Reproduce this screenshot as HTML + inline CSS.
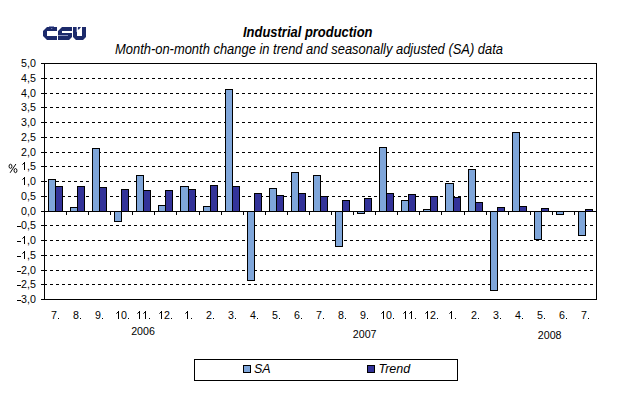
<!DOCTYPE html>
<html><head><meta charset="utf-8"><style>
html,body{margin:0;padding:0;background:#fff;width:618px;height:396px;overflow:hidden}
svg{display:block}
text{font-family:"Liberation Sans",sans-serif;fill:#000}
</style></head><body>
<svg width="618" height="396" viewBox="0 0 618 396">
<rect width="618" height="396" fill="#fff"/>
<g fill="#1C2A6B">
<polygon points="43,31 47,27 57,27 57,31 47,31 47,36 57,36 57,40 47,40 43,36"/>
<rect x="49" y="26" width="5" height="1" fill="#8A92C0"/>
<rect x="51" y="28" width="1.3" height="1" fill="#6F79AD"/>
<polygon points="58,31 62,27 72,27 72,31 62,31 62,33 72,33 72,37 69,40 58,40"/>
<rect x="58" y="35" width="10" height="1" fill="#8E96C0"/>
<polygon points="73,27 77,27 77,36 82,36 82,27 86,27 86,37 83,40 76,40 73,37"/>
<rect x="76" y="27" width="1" height="5" fill="#6A75AC"/>
<polygon points="78,27 81,27 79,29.6 77.8,29.6"/>
</g>
<line x1="44" y1="78.5" x2="596" y2="78.5" stroke="#000" stroke-width="1" stroke-dasharray="3 3"/>
<line x1="44" y1="93.5" x2="596" y2="93.5" stroke="#000" stroke-width="1" stroke-dasharray="3 3"/>
<line x1="44" y1="107.5" x2="596" y2="107.5" stroke="#000" stroke-width="1" stroke-dasharray="3 3"/>
<line x1="44" y1="122.5" x2="596" y2="122.5" stroke="#000" stroke-width="1" stroke-dasharray="3 3"/>
<line x1="44" y1="137.5" x2="596" y2="137.5" stroke="#000" stroke-width="1" stroke-dasharray="3 3"/>
<line x1="44" y1="152.5" x2="596" y2="152.5" stroke="#000" stroke-width="1" stroke-dasharray="3 3"/>
<line x1="44" y1="166.5" x2="596" y2="166.5" stroke="#000" stroke-width="1" stroke-dasharray="3 3"/>
<line x1="44" y1="181.5" x2="596" y2="181.5" stroke="#000" stroke-width="1" stroke-dasharray="3 3"/>
<line x1="44" y1="196.5" x2="596" y2="196.5" stroke="#000" stroke-width="1" stroke-dasharray="3 3"/>
<line x1="44" y1="225.5" x2="596" y2="225.5" stroke="#000" stroke-width="1" stroke-dasharray="3 3"/>
<line x1="44" y1="240.5" x2="596" y2="240.5" stroke="#000" stroke-width="1" stroke-dasharray="3 3"/>
<line x1="44" y1="255.5" x2="596" y2="255.5" stroke="#000" stroke-width="1" stroke-dasharray="3 3"/>
<line x1="44" y1="270.5" x2="596" y2="270.5" stroke="#000" stroke-width="1" stroke-dasharray="3 3"/>
<line x1="44" y1="284.5" x2="596" y2="284.5" stroke="#000" stroke-width="1" stroke-dasharray="3 3"/>
<line x1="41" y1="63.5" x2="44" y2="63.5" stroke="#000" stroke-width="1"/>
<line x1="41" y1="78.5" x2="44" y2="78.5" stroke="#000" stroke-width="1"/>
<line x1="41" y1="93.5" x2="44" y2="93.5" stroke="#000" stroke-width="1"/>
<line x1="41" y1="107.5" x2="44" y2="107.5" stroke="#000" stroke-width="1"/>
<line x1="41" y1="122.5" x2="44" y2="122.5" stroke="#000" stroke-width="1"/>
<line x1="41" y1="137.5" x2="44" y2="137.5" stroke="#000" stroke-width="1"/>
<line x1="41" y1="152.5" x2="44" y2="152.5" stroke="#000" stroke-width="1"/>
<line x1="41" y1="166.5" x2="44" y2="166.5" stroke="#000" stroke-width="1"/>
<line x1="41" y1="181.5" x2="44" y2="181.5" stroke="#000" stroke-width="1"/>
<line x1="41" y1="196.5" x2="44" y2="196.5" stroke="#000" stroke-width="1"/>
<line x1="41" y1="211.5" x2="44" y2="211.5" stroke="#000" stroke-width="1"/>
<line x1="41" y1="225.5" x2="44" y2="225.5" stroke="#000" stroke-width="1"/>
<line x1="41" y1="240.5" x2="44" y2="240.5" stroke="#000" stroke-width="1"/>
<line x1="41" y1="255.5" x2="44" y2="255.5" stroke="#000" stroke-width="1"/>
<line x1="41" y1="270.5" x2="44" y2="270.5" stroke="#000" stroke-width="1"/>
<line x1="41" y1="284.5" x2="44" y2="284.5" stroke="#000" stroke-width="1"/>
<line x1="41" y1="299.5" x2="44" y2="299.5" stroke="#000" stroke-width="1"/>
<rect x="48.5" y="179.5" width="7" height="32" fill="#7FA6DA" stroke="#000" stroke-width="1"/>
<rect x="55.5" y="186.5" width="7" height="25" fill="#333399" stroke="#000" stroke-width="1"/>
<rect x="70.5" y="207.5" width="7" height="4" fill="#7FA6DA" stroke="#000" stroke-width="1"/>
<rect x="77.5" y="186.5" width="7" height="25" fill="#333399" stroke="#000" stroke-width="1"/>
<rect x="92.5" y="148.5" width="7" height="63" fill="#7FA6DA" stroke="#000" stroke-width="1"/>
<rect x="99.5" y="187.5" width="7" height="24" fill="#333399" stroke="#000" stroke-width="1"/>
<rect x="114.5" y="211.5" width="7" height="10" fill="#7FA6DA" stroke="#000" stroke-width="1"/>
<rect x="121.5" y="189.5" width="7" height="22" fill="#333399" stroke="#000" stroke-width="1"/>
<rect x="136.5" y="175.5" width="7" height="36" fill="#7FA6DA" stroke="#000" stroke-width="1"/>
<rect x="143.5" y="190.5" width="7" height="21" fill="#333399" stroke="#000" stroke-width="1"/>
<rect x="158.5" y="205.5" width="7" height="6" fill="#7FA6DA" stroke="#000" stroke-width="1"/>
<rect x="165.5" y="190.5" width="7" height="21" fill="#333399" stroke="#000" stroke-width="1"/>
<rect x="180.5" y="186.5" width="8" height="25" fill="#7FA6DA" stroke="#000" stroke-width="1"/>
<rect x="188.5" y="189.5" width="7" height="22" fill="#333399" stroke="#000" stroke-width="1"/>
<rect x="203.5" y="206.5" width="7" height="5" fill="#7FA6DA" stroke="#000" stroke-width="1"/>
<rect x="210.5" y="185.5" width="7" height="26" fill="#333399" stroke="#000" stroke-width="1"/>
<rect x="225.5" y="89.5" width="7" height="122" fill="#7FA6DA" stroke="#000" stroke-width="1"/>
<rect x="232.5" y="186.5" width="7" height="25" fill="#333399" stroke="#000" stroke-width="1"/>
<rect x="247.5" y="211.5" width="7" height="69" fill="#7FA6DA" stroke="#000" stroke-width="1"/>
<rect x="254.5" y="193.5" width="7" height="18" fill="#333399" stroke="#000" stroke-width="1"/>
<rect x="269.5" y="188.5" width="7" height="23" fill="#7FA6DA" stroke="#000" stroke-width="1"/>
<rect x="276.5" y="195.5" width="7" height="16" fill="#333399" stroke="#000" stroke-width="1"/>
<rect x="291.5" y="172.5" width="7" height="39" fill="#7FA6DA" stroke="#000" stroke-width="1"/>
<rect x="298.5" y="193.5" width="7" height="18" fill="#333399" stroke="#000" stroke-width="1"/>
<rect x="313.5" y="175.5" width="7" height="36" fill="#7FA6DA" stroke="#000" stroke-width="1"/>
<rect x="320.5" y="196.5" width="7" height="15" fill="#333399" stroke="#000" stroke-width="1"/>
<rect x="335.5" y="211.5" width="7" height="35" fill="#7FA6DA" stroke="#000" stroke-width="1"/>
<rect x="342.5" y="200.5" width="7" height="11" fill="#333399" stroke="#000" stroke-width="1"/>
<rect x="357.5" y="211.5" width="7" height="2" fill="#7FA6DA" stroke="#000" stroke-width="1"/>
<rect x="364.5" y="198.5" width="7" height="13" fill="#333399" stroke="#000" stroke-width="1"/>
<rect x="379.5" y="147.5" width="7" height="64" fill="#7FA6DA" stroke="#000" stroke-width="1"/>
<rect x="386.5" y="193.5" width="7" height="18" fill="#333399" stroke="#000" stroke-width="1"/>
<rect x="401.5" y="200.5" width="7" height="11" fill="#7FA6DA" stroke="#000" stroke-width="1"/>
<rect x="408.5" y="194.5" width="7" height="17" fill="#333399" stroke="#000" stroke-width="1"/>
<rect x="423.5" y="209.5" width="7" height="2" fill="#7FA6DA" stroke="#000" stroke-width="1"/>
<rect x="430.5" y="196.5" width="7" height="15" fill="#333399" stroke="#000" stroke-width="1"/>
<rect x="445.5" y="183.5" width="8" height="28" fill="#7FA6DA" stroke="#000" stroke-width="1"/>
<rect x="453.5" y="197.5" width="7" height="14" fill="#333399" stroke="#000" stroke-width="1"/>
<rect x="468.5" y="169.5" width="7" height="42" fill="#7FA6DA" stroke="#000" stroke-width="1"/>
<rect x="475.5" y="202.5" width="7" height="9" fill="#333399" stroke="#000" stroke-width="1"/>
<rect x="490.5" y="211.5" width="7" height="79" fill="#7FA6DA" stroke="#000" stroke-width="1"/>
<rect x="497.5" y="207.5" width="7" height="4" fill="#333399" stroke="#000" stroke-width="1"/>
<rect x="512.5" y="132.5" width="7" height="79" fill="#7FA6DA" stroke="#000" stroke-width="1"/>
<rect x="519.5" y="206.5" width="7" height="5" fill="#333399" stroke="#000" stroke-width="1"/>
<rect x="534.5" y="211.5" width="7" height="28" fill="#7FA6DA" stroke="#000" stroke-width="1"/>
<rect x="541.5" y="208.5" width="7" height="3" fill="#333399" stroke="#000" stroke-width="1"/>
<rect x="556.5" y="211.5" width="7" height="3" fill="#7FA6DA" stroke="#000" stroke-width="1"/>
<rect x="578.5" y="211.5" width="7" height="24" fill="#7FA6DA" stroke="#000" stroke-width="1"/>
<rect x="585.5" y="209.5" width="7" height="2" fill="#333399" stroke="#000" stroke-width="1"/>
<line x1="44" y1="211.5" x2="597" y2="211.5" stroke="#000" stroke-width="1"/>
<line x1="44.5" y1="211" x2="44.5" y2="215" stroke="#000" stroke-width="1"/>
<line x1="66.5" y1="211" x2="66.5" y2="215" stroke="#000" stroke-width="1"/>
<line x1="88.5" y1="211" x2="88.5" y2="215" stroke="#000" stroke-width="1"/>
<line x1="110.5" y1="211" x2="110.5" y2="215" stroke="#000" stroke-width="1"/>
<line x1="132.5" y1="211" x2="132.5" y2="215" stroke="#000" stroke-width="1"/>
<line x1="154.5" y1="211" x2="154.5" y2="215" stroke="#000" stroke-width="1"/>
<line x1="176.5" y1="211" x2="176.5" y2="215" stroke="#000" stroke-width="1"/>
<line x1="199.5" y1="211" x2="199.5" y2="215" stroke="#000" stroke-width="1"/>
<line x1="221.5" y1="211" x2="221.5" y2="215" stroke="#000" stroke-width="1"/>
<line x1="243.5" y1="211" x2="243.5" y2="215" stroke="#000" stroke-width="1"/>
<line x1="265.5" y1="211" x2="265.5" y2="215" stroke="#000" stroke-width="1"/>
<line x1="287.5" y1="211" x2="287.5" y2="215" stroke="#000" stroke-width="1"/>
<line x1="309.5" y1="211" x2="309.5" y2="215" stroke="#000" stroke-width="1"/>
<line x1="331.5" y1="211" x2="331.5" y2="215" stroke="#000" stroke-width="1"/>
<line x1="353.5" y1="211" x2="353.5" y2="215" stroke="#000" stroke-width="1"/>
<line x1="375.5" y1="211" x2="375.5" y2="215" stroke="#000" stroke-width="1"/>
<line x1="397.5" y1="211" x2="397.5" y2="215" stroke="#000" stroke-width="1"/>
<line x1="419.5" y1="211" x2="419.5" y2="215" stroke="#000" stroke-width="1"/>
<line x1="441.5" y1="211" x2="441.5" y2="215" stroke="#000" stroke-width="1"/>
<line x1="464.5" y1="211" x2="464.5" y2="215" stroke="#000" stroke-width="1"/>
<line x1="486.5" y1="211" x2="486.5" y2="215" stroke="#000" stroke-width="1"/>
<line x1="508.5" y1="211" x2="508.5" y2="215" stroke="#000" stroke-width="1"/>
<line x1="530.5" y1="211" x2="530.5" y2="215" stroke="#000" stroke-width="1"/>
<line x1="552.5" y1="211" x2="552.5" y2="215" stroke="#000" stroke-width="1"/>
<line x1="574.5" y1="211" x2="574.5" y2="215" stroke="#000" stroke-width="1"/>
<line x1="596.5" y1="211" x2="596.5" y2="215" stroke="#000" stroke-width="1"/>
<rect x="44.5" y="63.5" width="552" height="236" fill="none" stroke="#000" stroke-width="1"/>
<rect x="194.5" y="359.5" width="263" height="21" fill="#fff" stroke="#000" stroke-width="1"/>
<rect x="243.5" y="365.5" width="7" height="7" fill="#7FA6DA" stroke="#000" stroke-width="1"/>
<rect x="367.5" y="365.5" width="7" height="7" fill="#333399" stroke="#000" stroke-width="1"/>
<text y="67" font-size="10.67"><tspan x="21">5</tspan><tspan x="27">,</tspan><tspan x="30">0</tspan></text>
<text y="82" font-size="10.67"><tspan x="21">4</tspan><tspan x="27">,</tspan><tspan x="30">5</tspan></text>
<text y="97" font-size="10.67"><tspan x="21">4</tspan><tspan x="27">,</tspan><tspan x="30">0</tspan></text>
<text y="111" font-size="10.67"><tspan x="21">3</tspan><tspan x="27">,</tspan><tspan x="30">5</tspan></text>
<text y="126" font-size="10.67"><tspan x="21">3</tspan><tspan x="27">,</tspan><tspan x="30">0</tspan></text>
<text y="141" font-size="10.67"><tspan x="21">2</tspan><tspan x="27">,</tspan><tspan x="30">5</tspan></text>
<text y="156" font-size="10.67"><tspan x="21">2</tspan><tspan x="27">,</tspan><tspan x="30">0</tspan></text>
<text y="170" font-size="10.67"><tspan x="27">,</tspan><tspan x="30">5</tspan></text>
<text y="185" font-size="10.67"><tspan x="27">,</tspan><tspan x="30">0</tspan></text>
<text y="200" font-size="10.67"><tspan x="21">0</tspan><tspan x="27">,</tspan><tspan x="30">5</tspan></text>
<text y="215" font-size="10.67"><tspan x="21">0</tspan><tspan x="27">,</tspan><tspan x="30">0</tspan></text>
<text y="229" font-size="10.67"><tspan x="21">0</tspan><tspan x="27">,</tspan><tspan x="30">5</tspan></text>
<text y="244" font-size="10.67"><tspan x="27">,</tspan><tspan x="30">0</tspan></text>
<text y="259" font-size="10.67"><tspan x="27">,</tspan><tspan x="30">5</tspan></text>
<text y="274" font-size="10.67"><tspan x="21">2</tspan><tspan x="27">,</tspan><tspan x="30">0</tspan></text>
<text y="288" font-size="10.67"><tspan x="21">2</tspan><tspan x="27">,</tspan><tspan x="30">5</tspan></text>
<text y="303" font-size="10.67"><tspan x="21">3</tspan><tspan x="27">,</tspan><tspan x="30">0</tspan></text>
<text y="319" font-size="10.67"><tspan x="51">7</tspan></text>
<text y="319" font-size="10.67"><tspan x="73">8</tspan></text>
<text y="319" font-size="10.67"><tspan x="95">9</tspan></text>
<text y="319" font-size="10.67"><tspan x="121">0</tspan></text>

<text y="319" font-size="10.67"><tspan x="164">2</tspan></text>

<text y="319" font-size="10.67"><tspan x="206">2</tspan></text>
<text y="319" font-size="10.67"><tspan x="228">3</tspan></text>
<text y="319" font-size="10.67"><tspan x="250">4</tspan></text>
<text y="319" font-size="10.67"><tspan x="272">5</tspan></text>
<text y="319" font-size="10.67"><tspan x="294">6</tspan></text>
<text y="319" font-size="10.67"><tspan x="316">7</tspan></text>
<text y="319" font-size="10.67"><tspan x="338">8</tspan></text>
<text y="319" font-size="10.67"><tspan x="360">9</tspan></text>
<text y="319" font-size="10.67"><tspan x="386">0</tspan></text>

<text y="319" font-size="10.67"><tspan x="430">2</tspan></text>

<text y="319" font-size="10.67"><tspan x="471">2</tspan></text>
<text y="319" font-size="10.67"><tspan x="493">3</tspan></text>
<text y="319" font-size="10.67"><tspan x="515">4</tspan></text>
<text y="319" font-size="10.67"><tspan x="537">5</tspan></text>
<text y="319" font-size="10.67"><tspan x="559">6</tspan></text>
<text y="319" font-size="10.67"><tspan x="581">7</tspan></text>
<text x="143" y="335" text-anchor="middle" font-size="10.67">2006</text>
<text x="364.7" y="338" text-anchor="middle" font-size="10.67">2007</text>
<text x="549.7" y="339" text-anchor="middle" font-size="10.67">2008</text>
<text x="243" y="37" font-size="14" font-weight="bold" font-style="italic" textLength="129.5" lengthAdjust="spacingAndGlyphs">Industrial production</text>
<text x="115" y="54" font-size="14" font-style="italic" textLength="388" lengthAdjust="spacingAndGlyphs">Month-on-month change in trend and seasonally adjusted (SA) data</text>
<text x="254" y="373" font-size="12.5" font-style="italic">SA</text>
<text x="378.5" y="373" font-size="12.5" font-style="italic">Trend</text>
<rect x="24" y="162" width="1" height="8" fill="#000"/>
<line x1="24.6" y1="162.5" x2="22.4" y2="164.6" stroke="#000" stroke-width="1"/>
<rect x="24" y="177" width="1" height="8" fill="#000"/>
<line x1="24.6" y1="177.5" x2="22.4" y2="179.6" stroke="#000" stroke-width="1"/>
<rect x="17" y="226" width="4" height="1" fill="#000"/>
<rect x="17" y="241" width="4" height="1" fill="#000"/>
<rect x="24" y="236" width="1" height="8" fill="#000"/>
<line x1="24.6" y1="236.5" x2="22.4" y2="238.6" stroke="#000" stroke-width="1"/>
<rect x="17" y="256" width="4" height="1" fill="#000"/>
<rect x="24" y="251" width="1" height="8" fill="#000"/>
<line x1="24.6" y1="251.5" x2="22.4" y2="253.6" stroke="#000" stroke-width="1"/>
<rect x="17" y="271" width="4" height="1" fill="#000"/>
<rect x="17" y="285" width="4" height="1" fill="#000"/>
<rect x="17" y="300" width="4" height="1" fill="#000"/>
<g fill="none" stroke="#000" stroke-width="0.95"><ellipse cx="10.5" cy="166.3" rx="1.45" ry="2.05"/><ellipse cx="15.5" cy="170.6" rx="1.45" ry="2.05"/><line x1="15.9" y1="164" x2="10.1" y2="172.8"/></g>
<rect x="58" y="318" width="1" height="1" fill="#000"/>
<rect x="80" y="318" width="1" height="1" fill="#000"/>
<rect x="102" y="318" width="1" height="1" fill="#000"/>
<rect x="118" y="311" width="1" height="8" fill="#000"/>
<line x1="118.6" y1="311.5" x2="116.4" y2="313.6" stroke="#000" stroke-width="1"/>
<rect x="128" y="318" width="1" height="1" fill="#000"/>
<rect x="139" y="311" width="1" height="8" fill="#000"/>
<line x1="139.6" y1="311.5" x2="137.4" y2="313.6" stroke="#000" stroke-width="1"/>
<rect x="145" y="311" width="1" height="8" fill="#000"/>
<line x1="145.6" y1="311.5" x2="143.4" y2="313.6" stroke="#000" stroke-width="1"/>
<rect x="149" y="318" width="1" height="1" fill="#000"/>
<rect x="161" y="311" width="1" height="8" fill="#000"/>
<line x1="161.6" y1="311.5" x2="159.4" y2="313.6" stroke="#000" stroke-width="1"/>
<rect x="171" y="318" width="1" height="1" fill="#000"/>
<rect x="187" y="311" width="1" height="8" fill="#000"/>
<line x1="187.6" y1="311.5" x2="185.4" y2="313.6" stroke="#000" stroke-width="1"/>
<rect x="191" y="318" width="1" height="1" fill="#000"/>
<rect x="213" y="318" width="1" height="1" fill="#000"/>
<rect x="235" y="318" width="1" height="1" fill="#000"/>
<rect x="257" y="318" width="1" height="1" fill="#000"/>
<rect x="279" y="318" width="1" height="1" fill="#000"/>
<rect x="301" y="318" width="1" height="1" fill="#000"/>
<rect x="323" y="318" width="1" height="1" fill="#000"/>
<rect x="345" y="318" width="1" height="1" fill="#000"/>
<rect x="367" y="318" width="1" height="1" fill="#000"/>
<rect x="383" y="311" width="1" height="8" fill="#000"/>
<line x1="383.6" y1="311.5" x2="381.4" y2="313.6" stroke="#000" stroke-width="1"/>
<rect x="393" y="318" width="1" height="1" fill="#000"/>
<rect x="405" y="311" width="1" height="8" fill="#000"/>
<line x1="405.6" y1="311.5" x2="403.4" y2="313.6" stroke="#000" stroke-width="1"/>
<rect x="411" y="311" width="1" height="8" fill="#000"/>
<line x1="411.6" y1="311.5" x2="409.4" y2="313.6" stroke="#000" stroke-width="1"/>
<rect x="415" y="318" width="1" height="1" fill="#000"/>
<rect x="427" y="311" width="1" height="8" fill="#000"/>
<line x1="427.6" y1="311.5" x2="425.4" y2="313.6" stroke="#000" stroke-width="1"/>
<rect x="437" y="318" width="1" height="1" fill="#000"/>
<rect x="451" y="311" width="1" height="8" fill="#000"/>
<line x1="451.6" y1="311.5" x2="449.4" y2="313.6" stroke="#000" stroke-width="1"/>
<rect x="455" y="318" width="1" height="1" fill="#000"/>
<rect x="478" y="318" width="1" height="1" fill="#000"/>
<rect x="500" y="318" width="1" height="1" fill="#000"/>
<rect x="522" y="318" width="1" height="1" fill="#000"/>
<rect x="544" y="318" width="1" height="1" fill="#000"/>
<rect x="566" y="318" width="1" height="1" fill="#000"/>
<rect x="588" y="318" width="1" height="1" fill="#000"/>
</svg>
</body></html>
